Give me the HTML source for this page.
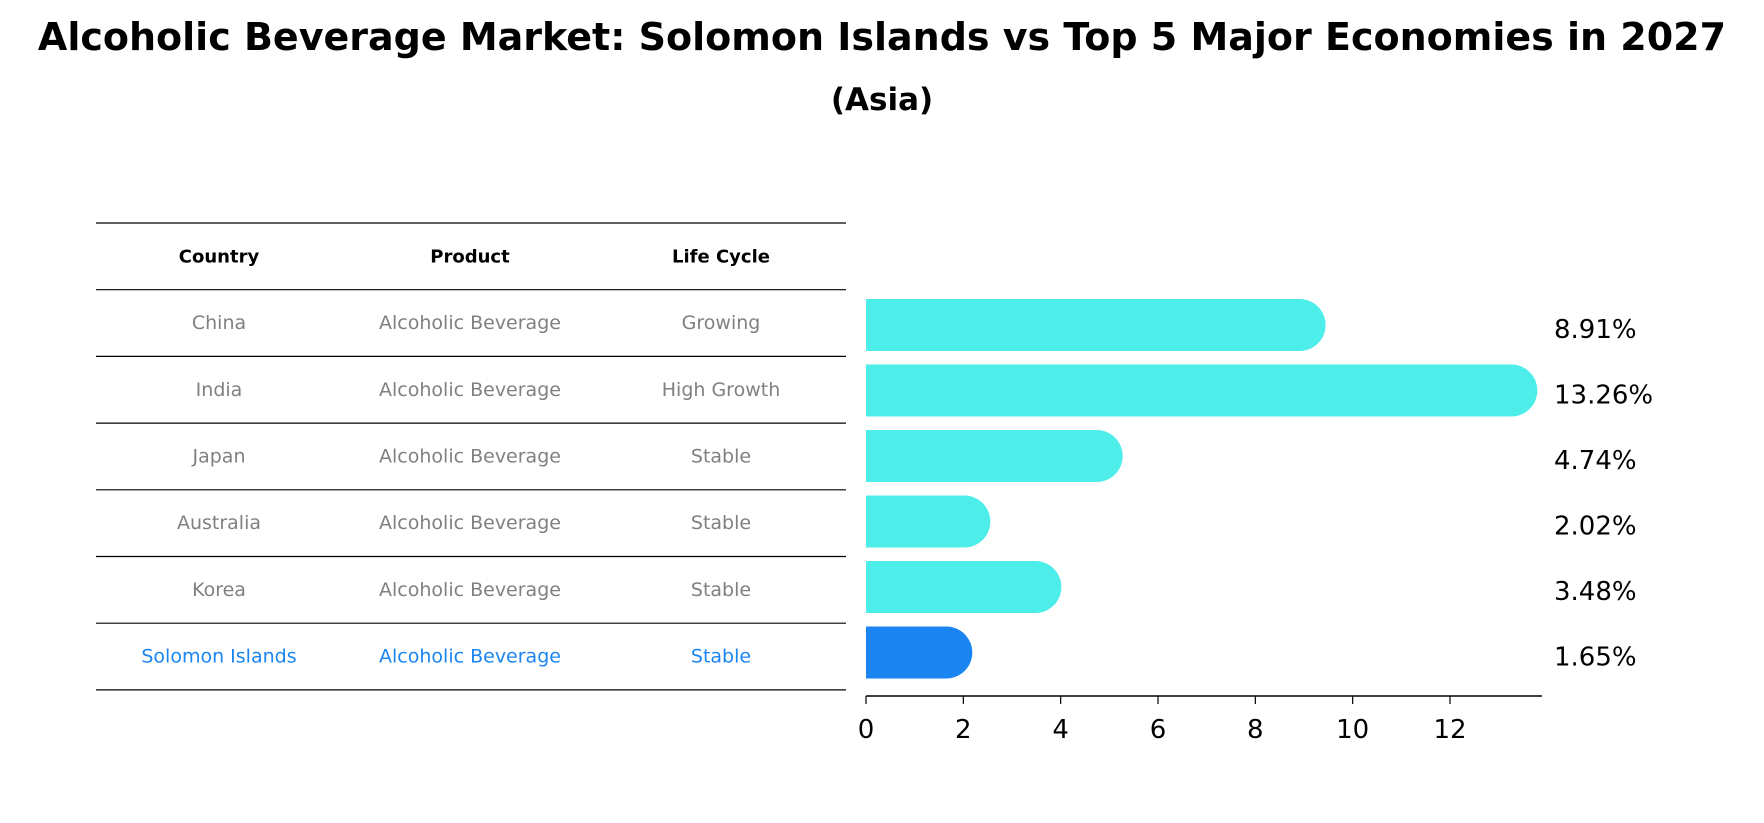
<!DOCTYPE html>
<html><head><meta charset="utf-8"><style>
body{margin:0;background:#fff;}
svg{display:block;font-family:"DejaVu Sans","Liberation Sans",sans-serif;}
</style></head><body>
<svg id="c" width="1764" height="823" viewBox="0 0 1764 823" xmlns="http://www.w3.org/2000/svg">
<rect width="1764" height="823" fill="#fff"/>
<text x="882" y="50" text-anchor="middle" font-size="38" font-weight="bold">Alcoholic Beverage Market: Solomon Islands vs Top 5 Major Economies in 2027</text>
<text x="882" y="110" text-anchor="middle" font-size="31" font-weight="bold">(Asia)</text>
<g id="table"></g>
<g id="bars"></g>
</svg>
<script>
const countries=["China","India","Japan","Australia","Korea","Solomon Islands"];
const products=["Alcoholic Beverage","Alcoholic Beverage","Alcoholic Beverage","Alcoholic Beverage","Alcoholic Beverage","Alcoholic Beverage"];
const lifeCycles=["Growing","High Growth","Stable","Stable","Stable","Stable"];
const values=[8.91,13.26,4.74,2.02,3.48,1.65];
const valueLabels=["8.91%","13.26%","4.74%","2.02%","3.48%","1.65%"];
const ticks=[0,2,4,6,8,10,12];
const NS="http://www.w3.org/2000/svg";
function mk(tag,attrs,parent,txt){const e=document.createElementNS(NS,tag);for(const k in attrs)e.setAttribute(k,attrs[k]);if(txt!==undefined)e.textContent=txt;parent.appendChild(e);return e;}
const x0=866,x1=1450;const xs=v=>x0+(v/12)*(x1-x0);
const rowTop=223,rowH=66.7;
const rowCenter=i=>rowTop+rowH*(i+1.5);
const barCenter=i=>325+65.5*i;
const tbl=document.getElementById('table');
const colX=[219,470,721];
for(let i=0;i<=countries.length+1;i++){
  const y=rowTop+rowH*i;
  const l=mk('line',{x1:96,x2:846,y1:y,y2:y,stroke:'#000','stroke-width':1.2},tbl);
  
  
}
["Country","Product","Life Cycle"].forEach((h,j)=>{
  const t=mk('text',{x:colX[j],y:rowTop+rowH*0.5+6,'text-anchor':'middle','font-size':18,'font-weight':'bold'},tbl,h);
  
  
});
countries.forEach((c,i)=>{
  const col=i===countries.length-1?'#1a85f0':'#808080';
  [c,products[i],lifeCycles[i]].forEach((s,j)=>{
    const t=mk('text',{x:colX[j],y:rowCenter(i)+6,'text-anchor':'middle','font-size':19,fill:col},tbl,s);
    
    
  });
});
const bg=document.getElementById('bars');
const bh=52,r=26;
values.forEach((v,i)=>{
  const cy=barCenter(i);const xe=xs(v);
  const col=i===values.length-1?'#1a85f0':'#4deeea';
  const p=mk('path',{d:`M${x0},${cy-bh/2} H${xe} A${r},${r} 0 0 1 ${xe},${cy+bh/2} H${x0} Z`,fill:col},bg);
  
  
  const t=mk('text',{x:1554,y:cy+13,'font-size':26},bg,valueLabels[i]);
  
  
});
const ay=696;
const ax=mk('line',{x1:x0,x2:1542,y1:ay,y2:ay,stroke:'#000','stroke-width':1.5},bg);


ticks.forEach(t=>{
  const x=xs(t);
  const tk=mk('line',{x1:x,x2:x,y1:ay,y2:ay+8,stroke:'#000','stroke-width':1.2},bg);
  
  
  const tl=mk('text',{x:x,y:ay+42,'text-anchor':'middle','font-size':26},bg,String(t));
  
  
});
</script>
</body></html>
